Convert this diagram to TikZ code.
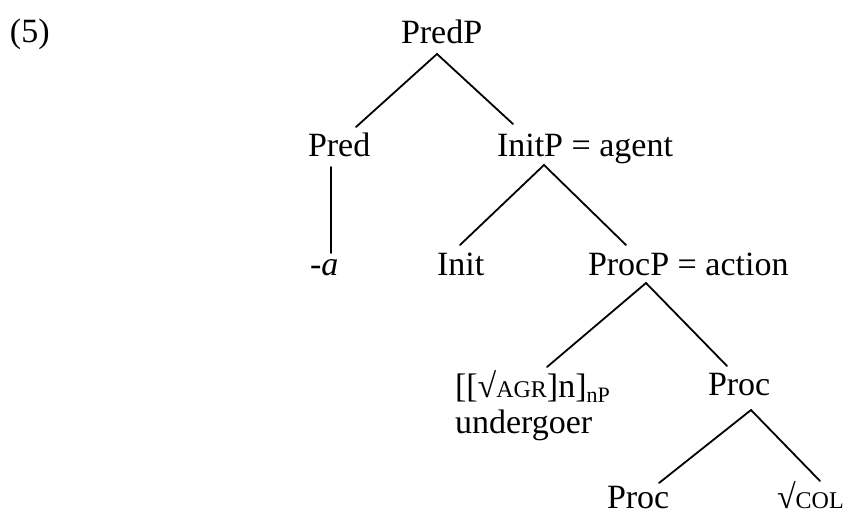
\documentclass[tikz,border=0pt]{standalone}
\usepackage{fontspec}
\setmainfont{Liberation Serif}
\newcommand\rootsc[1]{{\fontsize{12}{12}\selectfont #1}}
\newcommand\subsc[1]{\raisebox{-2.6pt}{\fontsize{11}{11}\selectfont #1}}
\begin{document}
\begin{tikzpicture}[x=0.5pt,y=-0.5pt,
  lbl/.style={anchor=base west,inner sep=0pt,outer sep=0pt,font=\fontsize{17}{20}\selectfont},
  branch/.style={line width=0.9pt,line cap=round}]
\useasboundingbox (0,0) rectangle (850,513);
% texts
\node[lbl] (ex) at (10,43) {(5)};
\node[lbl] (predp) at (401,44) {PredP};
\node[lbl] (pred) at (308,157) {Pred};
\node[lbl] (initp) at (497,157) {InitP = agent};
\node[lbl] (a) at (310,275) {-\textit{a}};
\node[lbl] (init) at (437,275) {Init};
\node[lbl] (procp) at (588,275) {ProcP = action};
\node[lbl] (agr) at (455,397) {[[√\rootsc{AGR}]n]\subsc{nP}};
\node[lbl] (und) at (455,433) {undergoer};
\node[lbl] (proc) at (708,395) {Proc};
\node[lbl] (proclow) at (607,508) {Proc};
\node[lbl] (col) at (777,508) {√\rootsc{COL}};
% branch points
\coordinate (t1) at (437,54);  \coordinate (t1l) at (356,127); \coordinate (t1r) at (513,124);
\coordinate (p1) at (331,167); \coordinate (p2) at (331,253);
\coordinate (t2) at (544,165); \coordinate (t2l) at (460,245); \coordinate (t2r) at (626,245);
\coordinate (t3) at (646,283); \coordinate (t3l) at (547,367); \coordinate (t3r) at (727,366);
\coordinate (t4) at (751,410); \coordinate (t4l) at (659,483); \coordinate (t4r) at (820,481);
\draw[branch] (t1l) -- (t1) -- (t1r);
\draw[branch] (p1) -- (p2);
\draw[branch] (t2l) -- (t2) -- (t2r);
\draw[branch] (t3l) -- (t3) -- (t3r);
\draw[branch] (t4l) -- (t4) -- (t4r);
\end{tikzpicture}
\end{document}
